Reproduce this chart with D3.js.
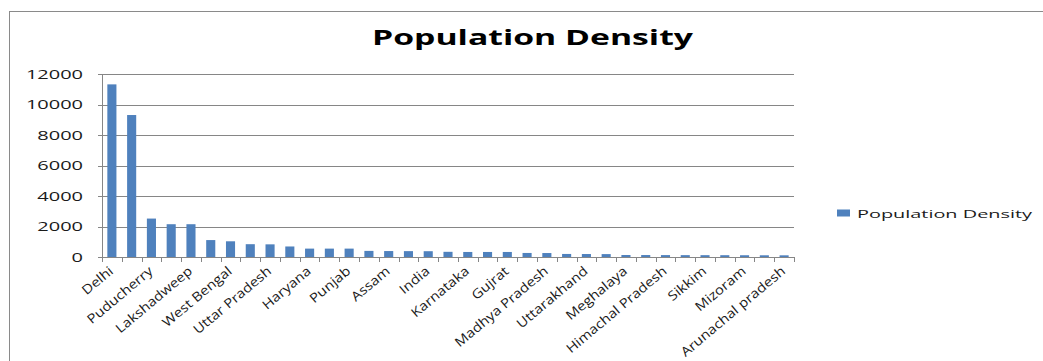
<!DOCTYPE html>
<html>
<head>
<meta charset="utf-8">
<script src="https://cdn.jsdelivr.net/npm/d3@7"></script>
<style>
  body { margin:0; background:#fff; }
  text { font-family:"Open Sans", sans-serif; fill:#1a1a1a; }
</style>
</head>
<body>
<div id="chart"></div>
<script>
var Regions = ["Delhi", "Chandigarh", "Puducherry", "Daman & Diu", "Lakshadweep", "Bihar",
  "West Bengal", "Kerala", "Uttar Pradesh", "Dadra & Nagar Haveli", "Haryana", "Tamil Nadu",
  "Punjab", "Jharkhand", "Assam", "Goa", "India", "Maharashtra", "Karnataka", "Tripura",
  "Gujrat", "Odisha", "Madhya Pradesh", "Rajasthan", "Uttarakhand", "Chhattisgarh",
  "Meghalaya", "Jammu & Kashmir", "Himachal Pradesh", "Manipur", "Sikkim", "Nagaland",
  "Mizoram", "Andaman & Nicobar", "Arunachal pradesh"];
var Density = [11320, 9310, 2520, 2150, 2150, 1110, 1030, 840, 830, 690, 550, 550,
  550, 400, 390, 385, 380, 340, 330, 330, 330, 265, 260, 200, 195, 190,
  130, 128, 125, 122, 120, 118, 115, 112, 110];
var yTicks = [0, 2000, 4000, 6000, 8000, 10000, 12000];
var seriesName = "Population Density";

var W = 1043, H = 361;
var stretch = 1.6;   // picture text is wide, stretch glyphs sideways
var plot = { left: 102, right: 794, top: 74, bottom: 257 };

var svg = d3.select("#chart").append("svg")
    .attr("width", W).attr("height", H);

// chart border (runs off right and bottom edge)
svg.append("rect")
    .attr("x", 9.5).attr("y", 11.5)
    .attr("width", W + 20).attr("height", H + 20)
    .attr("fill", "none").attr("stroke", "#8a8a8a");

var xScale = d3.scaleBand().domain(Regions)
    .range([plot.left, plot.right]).paddingInner(0.54).paddingOuter(0.27);
var yScale = d3.scaleLinear().domain([0, 12000]).range([plot.bottom, plot.top]);

// gridlines
svg.append("g").selectAll("line").data(yTicks).join("line")
    .attr("x1", plot.left - 4).attr("x2", plot.right)
    .attr("y1", function(d) { return Math.round(yScale(d)) + 0.5; })
    .attr("y2", function(d) { return Math.round(yScale(d)) + 0.5; })
    .attr("stroke", "#868686");

// y labels
svg.append("g").selectAll("text").data(yTicks).join("text")
    .attr("transform", function(d) { return "translate(83," + (yScale(d) + 4.5) + ") scale(" + stretch + ",1)"; })
    .attr("text-anchor", "end")
    .style("font-size", "12.5px")
    .text(function(d) { return d; });

// bars
svg.append("g").selectAll("rect").data(Regions).join("rect")
    .attr("x", function(d) { return xScale(d); })
    .attr("width", xScale.bandwidth())
    .attr("y", function(d, i) { return yScale(Density[i]); })
    .attr("height", function(d, i) { return plot.bottom - yScale(Density[i]); })
    .attr("fill", "#4f81bd");

// y axis line
svg.append("line")
    .attr("x1", plot.left + 0.5).attr("x2", plot.left + 0.5)
    .attr("y1", plot.top).attr("y2", plot.bottom + 5)
    .attr("stroke", "#868686");

// x axis line and ticks between categories
var step = xScale.step();
var bounds = Regions.map(function(d) { return xScale(d) + xScale.bandwidth() / 2 - step / 2; });
bounds.push(plot.right);
svg.append("line")
    .attr("x1", plot.left).attr("x2", plot.right)
    .attr("y1", plot.bottom + 0.5).attr("y2", plot.bottom + 0.5)
    .attr("stroke", "#868686");
svg.append("g").selectAll("line").data(bounds).join("line")
    .attr("x1", function(d) { return Math.round(d) + 0.5; })
    .attr("x2", function(d) { return Math.round(d) + 0.5; })
    .attr("y1", plot.bottom).attr("y2", plot.bottom + 5)
    .attr("stroke", "#868686");

// x labels, every second one like Excel
svg.append("g").selectAll("text")
    .data(Regions.filter(function(d, i) { return i % 2 == 0; }))
    .join("text")
    .attr("transform", function(d) {
      var cx = xScale(d) + xScale.bandwidth() / 2;
      return "translate(" + (cx - 4) + "," + (plot.bottom + 8) + ") rotate(-40) scale(1.15,1)";
    })
    .attr("text-anchor", "end")
    .attr("dy", "0.75em")
    .style("font-size", "13px")
    .text(function(d) { return d; });

// title
svg.append("text")
    .attr("x", 372).attr("y", 45)
    .attr("textLength", 321).attr("lengthAdjust", "spacingAndGlyphs")
    .style("font-size", "22px").style("font-weight", "bold")
    .style("fill", "#000")
    .text(seriesName);

// legend
svg.append("rect")
    .attr("x", 837).attr("y", 209.5).attr("width", 13).attr("height", 7)
    .attr("fill", "#4f81bd");
svg.append("text")
    .attr("x", 857).attr("y", 218)
    .attr("textLength", 175).attr("lengthAdjust", "spacingAndGlyphs")
    .style("font-size", "11px")
    .text(seriesName);
</script>
</body>
</html>
